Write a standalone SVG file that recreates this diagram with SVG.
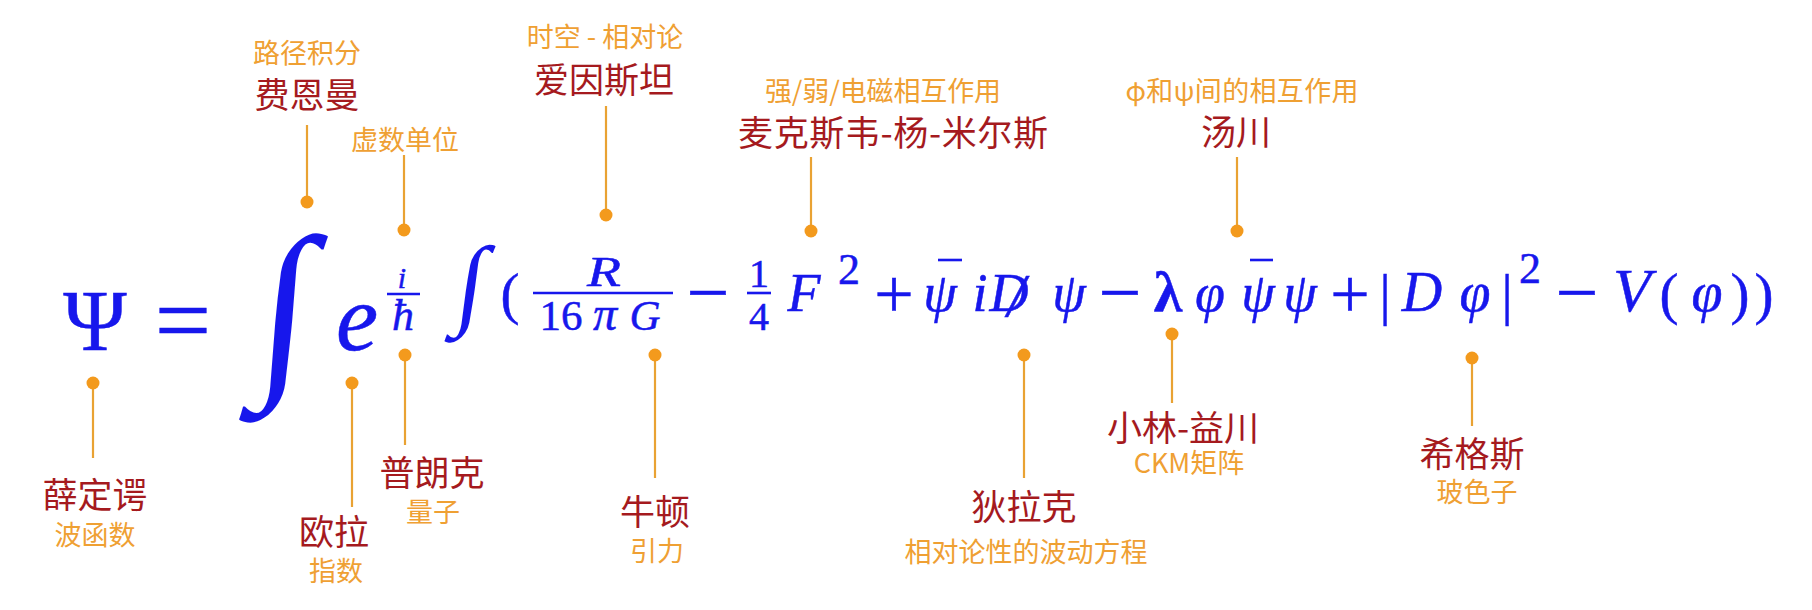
<svg xmlns="http://www.w3.org/2000/svg" width="1812" height="610" viewBox="0 0 1812 610">
<style>
.m{font-family:"Liberation Serif","DejaVu Serif",serif;fill:#1717EC;stroke:#1717EC;stroke-width:0.5;text-anchor:middle}
.it{font-style:italic}
.int{stroke-width:0}
.nm{font-family:"Noto Sans CJK SC",sans-serif;font-size:35px;fill:#A51A1E;text-anchor:middle}
.sb{font-family:"Noto Sans CJK SC",sans-serif;font-size:27px;fill:#EFA033;text-anchor:middle}
.ln{stroke:#E9A233;stroke-width:2.2;fill:none}
.dt{fill:#F39A1D}
.bar{stroke:#1717EC;stroke-width:2.6}
</style>
<rect width="1812" height="610" fill="#FFFFFF"/>
<g id="formula">
<text class="m" x="95" y="350" font-size="86">Ψ</text>
<text class="m" x="183" y="354" font-size="100">=</text>
<text class="m int" transform="translate(280,371) skewX(-5)" font-size="193">∫</text>
<text class="m it" x="357" y="350" font-size="95">e</text>
<text class="m it" x="402" y="288" font-size="30">i</text>
<line class="bar" x1="387" y1="294" x2="420" y2="294"/>
<text class="m it" x="403" y="330" font-size="44">ħ</text>
<text class="m int" transform="translate(467,316) skewX(-8)" font-size="100">∫</text>
<text class="m" x="510" y="313" font-size="57">(</text>
<text class="m it" x="604" y="286" font-size="42" textLength="34" lengthAdjust="spacingAndGlyphs" stroke-width="0.3">R</text>
<line class="bar" x1="533" y1="293" x2="673" y2="293"/>
<text class="m" x="561" y="330" font-size="43">16</text>
<text class="m it" x="605" y="330" font-size="48">π</text>
<text class="m it" x="645" y="330" font-size="43">G</text>
<text class="m" x="708" y="318" font-size="76">−</text>
<text class="m" x="759" y="287" font-size="40">1</text>
<line class="bar" x1="747" y1="293" x2="771" y2="293" stroke-width="1.6"/>
<text class="m" x="759" y="330" font-size="40">4</text>
<text class="m it" x="804" y="311" font-size="54">F</text>
<text class="m" x="849" y="284" font-size="44">2</text>
<text class="m" x="894" y="318" font-size="70">+</text>
<line class="bar" x1="938" y1="260" x2="962" y2="260"/>
<text class="m it" x="940" y="311" font-size="54">ψ</text>
<text class="m it" x="980" y="311" font-size="54">i</text>
<text class="m it" x="1009" y="311" font-size="54">D</text>
<text class="m it" x="1016" y="316" font-size="62">/</text>
<text class="m it" x="1069" y="311" font-size="54">ψ</text>
<text class="m" x="1120" y="318" font-size="76">−</text>
<text class="m" x="1168" y="311" font-size="58" font-weight="bold">λ</text>
<text class="m it" x="1210" y="311" font-size="54">φ</text>
<line class="bar" x1="1250" y1="260" x2="1273" y2="260"/>
<text class="m it" x="1258" y="311" font-size="54">ψ</text>
<text class="m it" x="1300" y="311" font-size="54">ψ</text>
<text class="m" x="1350" y="318" font-size="70">+</text>
<text class="m" x="1385" y="314" font-size="56">|</text>
<text class="m it" x="1422" y="311" font-size="56">D</text>
<text class="m it" x="1475" y="311" font-size="56">φ</text>
<text class="m" x="1507" y="314" font-size="56">|</text>
<text class="m" x="1530" y="283" font-size="44">2</text>
<text class="m" x="1577" y="318" font-size="76">−</text>
<text class="m it" x="1632" y="311" font-size="62">V</text>
<text class="m" x="1669" y="313" font-size="57">(</text>
<text class="m it" x="1707" y="311" font-size="56">φ</text>
<text class="m" x="1740" y="313" font-size="57">)</text>
<text class="m" x="1764" y="313" font-size="57">)</text>
</g>
<g id="connectors">
<line class="ln" x1="307" y1="125" x2="307" y2="202"/><circle class="dt" cx="307" cy="202" r="6.5"/>
<line class="ln" x1="404" y1="155" x2="404" y2="230"/><circle class="dt" cx="404" cy="230" r="6.5"/>
<line class="ln" x1="606" y1="106" x2="606" y2="215"/><circle class="dt" cx="606" cy="215" r="6.5"/>
<line class="ln" x1="811" y1="157" x2="811" y2="231"/><circle class="dt" cx="811" cy="231" r="6.5"/>
<line class="ln" x1="1237" y1="157" x2="1237" y2="231"/><circle class="dt" cx="1237" cy="231" r="6.5"/>
<line class="ln" x1="93" y1="383" x2="93" y2="458"/><circle class="dt" cx="93" cy="383" r="6.5"/>
<line class="ln" x1="352" y1="383" x2="352" y2="507"/><circle class="dt" cx="352" cy="383" r="6.5"/>
<line class="ln" x1="405" y1="355" x2="405" y2="445"/><circle class="dt" cx="405" cy="355" r="6.5"/>
<line class="ln" x1="655" y1="355" x2="655" y2="478"/><circle class="dt" cx="655" cy="355" r="6.5"/>
<line class="ln" x1="1024" y1="355" x2="1024" y2="478"/><circle class="dt" cx="1024" cy="355" r="6.5"/>
<line class="ln" x1="1172" y1="334" x2="1172" y2="403"/><circle class="dt" cx="1172" cy="334" r="6.5"/>
<line class="ln" x1="1472" y1="358" x2="1472" y2="426"/><circle class="dt" cx="1472" cy="358" r="6.5"/>
</g>
<g id="feynman"><text class="sb" x="307" y="63">路径积分</text><text class="nm" x="307" y="108">费恩曼</text></g>
<g id="imaginary"><text class="sb" x="405" y="150">虚数单位</text></g>
<g id="einstein"><text class="sb" x="605" y="47">时空 - 相对论</text><text class="nm" x="604" y="93">爱因斯坦</text></g>
<g id="yang-mills"><text class="sb" x="883" y="101" textLength="236" lengthAdjust="spacing">强/弱/电磁相互作用</text><text class="nm" x="893" y="146" textLength="310" lengthAdjust="spacing">麦克斯韦-杨-米尔斯</text></g>
<g id="yukawa"><text class="sb" x="1242" y="101" textLength="233" lengthAdjust="spacing">φ和ψ间的相互作用</text><text class="nm" x="1236" y="145">汤川</text></g>
<g id="schrodinger"><text class="nm" x="95" y="508">薛定谔</text><text class="sb" x="95" y="545">波函数</text></g>
<g id="euler"><text class="nm" x="334" y="545">欧拉</text><text class="sb" x="336" y="581">指数</text></g>
<g id="planck"><text class="nm" x="432" y="486">普朗克</text><text class="sb" x="433" y="522">量子</text></g>
<g id="newton"><text class="nm" x="655" y="525">牛顿</text><text class="sb" x="657" y="561">引力</text></g>
<g id="dirac"><text class="nm" x="1024" y="520">狄拉克</text><text class="sb" x="1026" y="562">相对论性的波动方程</text></g>
<g id="kobayashi-maskawa"><text class="nm" x="1183" y="441">小林-益川</text><text class="sb" x="1189" y="473">CKM矩阵</text></g>
<g id="higgs"><text class="nm" x="1472" y="467">希格斯</text><text class="sb" x="1477" y="502">玻色子</text></g>
</svg>
